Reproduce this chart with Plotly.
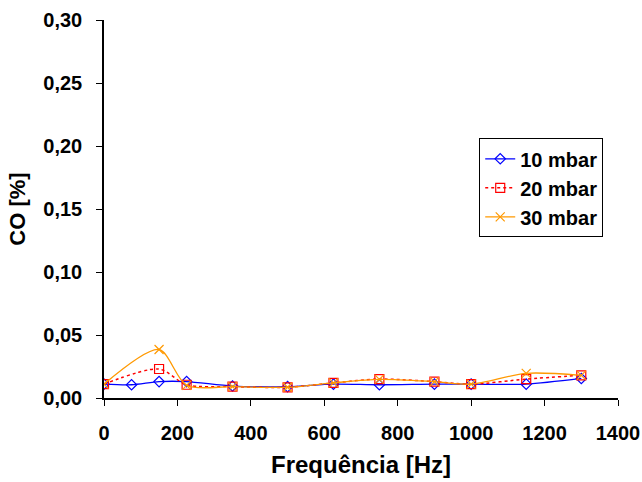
import plotly.graph_objects as go

x_blue = [0, 75, 150, 225, 350, 500, 625, 750, 900, 1000, 1150, 1300]
y_10 = [0.011, 0.0105, 0.013, 0.013, 0.0095, 0.009, 0.011, 0.0105, 0.011, 0.011, 0.011, 0.0155]
x_other = [0, 150, 225, 350, 500, 625, 750, 900, 1000, 1150, 1300]
y_20 = [0.011, 0.023, 0.0105, 0.009, 0.0085, 0.012, 0.015, 0.013, 0.011, 0.015, 0.018]
y_30 = [0.011, 0.0385, 0.010, 0.009, 0.0085, 0.012, 0.0148, 0.013, 0.011, 0.0196, 0.018]

font = dict(family="Liberation Sans, Arial, sans-serif", color="black", weight="bold")

fig = go.Figure()
fig.add_trace(go.Scatter(x=x_blue, y=y_10, name="10 mbar", mode="lines+markers",
                         line=dict(color="#0000FF", width=1.3, shape="spline", smoothing=0.8),
                         marker=dict(symbol="diamond-open", size=8, color="#0000FF", line=dict(width=1.2))))
fig.add_trace(go.Scatter(x=x_other, y=y_20, name="20 mbar", mode="lines+markers",
                         line=dict(color="#FF0000", width=1.5, dash="dot", shape="spline", smoothing=0.8),
                         marker=dict(symbol="square-open", size=9, color="#FF0000", line=dict(width=1.2))))
fig.add_trace(go.Scatter(x=x_other, y=y_30, name="30 mbar", mode="lines+markers",
                         line=dict(color="#FF9900", width=1.3, shape="spline", smoothing=0.8),
                         marker=dict(symbol="x-thin-open", size=9, color="#FF9900", line=dict(width=1.2, color="#FF9900"))))

fig.update_layout(
    width=642, height=482,
    margin=dict(l=104, r=24, t=20, b=84),
    paper_bgcolor="white", plot_bgcolor="white",
    separators=", ",
    font=font,
    showlegend=True,
    legend=dict(x=0.73, y=0.687, xanchor="left", yanchor="top",
                bordercolor="black", borderwidth=1, bgcolor="white",
                font=dict(size=20, **font), tracegroupgap=0),
    xaxis=dict(range=[0, 1400], dtick=200, tickformat="d", showgrid=False, zeroline=False,
               showline=True, linecolor="black", linewidth=1.5, ticks="outside", ticklen=6,
               tickcolor="black", tickfont=dict(size=20, **font), automargin=False,
               ticklabelstandoff=10,
               title=dict(text="Frequência [Hz]", font=dict(size=24, **font), standoff=13)),
    yaxis=dict(range=[0, 0.30], dtick=0.05, tickformat=".2f", showgrid=False, zeroline=False,
               showline=True, linecolor="black", linewidth=1.5, ticks="outside", ticklen=6,
               tickcolor="black", tickfont=dict(size=20, **font), automargin=False,
               ticklabelstandoff=10,
               title=dict(text="CO [%]", font=dict(size=22, **font), standoff=12)),
)
fig.write_html("out.html", config={"displayModeBar": False},
               post_script="document.body.style.margin='0';document.body.style.overflow='hidden';")
